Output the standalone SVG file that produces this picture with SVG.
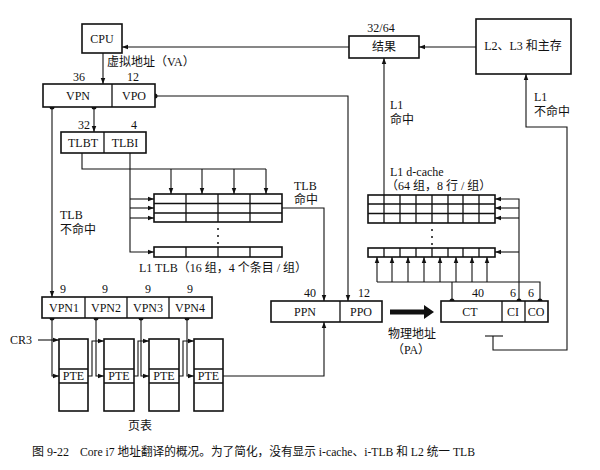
<svg xmlns="http://www.w3.org/2000/svg" width="600" height="470" viewBox="0 0 600 470">
<style>
.box{fill:#fff;stroke:#111;stroke-width:1.6}
.cell{fill:none;stroke:#111;stroke-width:1.3}
.ln{fill:none;stroke:#111;stroke-width:1.1}
.t{font-family:"Liberation Serif","Noto Sans CJK SC",serif;font-size:12px;fill:#111}
.c{text-anchor:middle}
.dot{fill:#111}
</style>
<defs>
<marker id="ah" viewBox="0 0 8 8" refX="8" refY="4" markerWidth="6" markerHeight="6" orient="auto" markerUnits="userSpaceOnUse">
<path d="M0,1 L8,4 L0,7 z" fill="#111"/>
</marker>
</defs>
<rect width="600" height="470" fill="#fff"/>

<g id="connectors">
<path class="ln" d="M103,53 V84" marker-end="url(#ah)"/>
<path class="ln" d="M349,47 H122" marker-end="url(#ah)"/>
<path class="ln" d="M476,47 H419" marker-end="url(#ah)"/>
<path class="ln" d="M155,96 H348 V301" marker-end="url(#ah)"/>
<path class="ln" d="M94,107 V132" marker-end="url(#ah)"/>
<path class="ln" d="M52,107 V297" marker-end="url(#ah)"/>
<path class="ln" d="M82,153 V169 H266"/>
<path class="ln" d="M171,169 V194" marker-end="url(#ah)"/>
<path class="ln" d="M202,169 V194" marker-end="url(#ah)"/>
<path class="ln" d="M234,169 V194" marker-end="url(#ah)"/>
<path class="ln" d="M266,169 V194" marker-end="url(#ah)"/>
<path class="ln" d="M130,153 V252 H154" marker-end="url(#ah)"/>
<path class="ln" d="M130,199 H154" marker-end="url(#ah)"/>
<path class="ln" d="M130,208 H154" marker-end="url(#ah)"/>
<path class="ln" d="M130,218 H154" marker-end="url(#ah)"/>
<path class="ln" d="M282,208 H324 V301" marker-end="url(#ah)"/>
<path class="ln" d="M384,195 V58" marker-end="url(#ah)"/>
<path class="ln" d="M493,336 V350 H567 V127 H526 V74" marker-end="url(#ah)"/>
<path class="ln" d="M485,336 H503" stroke-width="1.4"/>
<path class="ln" d="M519,301 V199 H495" marker-end="url(#ah)"/>
<path class="ln" d="M519,208 H495" marker-end="url(#ah)"/>
<path class="ln" d="M519,218 H495" marker-end="url(#ah)"/>
<path class="ln" d="M519,252 H495" marker-end="url(#ah)"/>
<path class="ln" d="M452,301 V282"/>
<path class="ln" d="M540,301 V282 H377"/>
<path class="ln" d="M377,282 V257" marker-end="url(#ah)"/>
<path class="ln" d="M392,282 V257" marker-end="url(#ah)"/>
<path class="ln" d="M408,282 V257" marker-end="url(#ah)"/>
<path class="ln" d="M424,282 V257" marker-end="url(#ah)"/>
<path class="ln" d="M440,282 V257" marker-end="url(#ah)"/>
<path class="ln" d="M456,282 V257" marker-end="url(#ah)"/>
<path class="ln" d="M472,282 V257" marker-end="url(#ah)"/>
<path class="ln" d="M487,282 V257" marker-end="url(#ah)"/>
<path d="M390,309.5 H424 V305 L434,312 L424,319 V314.5 H390 z" fill="#111"/>
<path class="ln" d="M38,340 H59" marker-end="url(#ah)"/>
<path class="ln" d="M52,318 V376 H59" marker-end="url(#ah)"/>
<path class="ln" d="M96,318 V376 H104" marker-end="url(#ah)"/>
<path class="ln" d="M141,318 V376 H149" marker-end="url(#ah)"/>
<path class="ln" d="M187,318 V376 H194" marker-end="url(#ah)"/>
<path class="ln" d="M88,376 H92 V341 H104" marker-end="url(#ah)"/>
<path class="ln" d="M134,376 H138 V341 H149" marker-end="url(#ah)"/>
<path class="ln" d="M179,376 H183 V341 H194" marker-end="url(#ah)"/>
<path class="ln" d="M223,376 H324 V322" marker-end="url(#ah)"/>
<circle class="dot" cx="155" cy="96" r="2.5"/>
<circle class="dot" cx="94" cy="107" r="2.5"/>
<circle class="dot" cx="52" cy="107" r="2.5"/>
<circle class="dot" cx="452" cy="301" r="2.5"/>
<circle class="dot" cx="519" cy="301" r="2.5"/>
<circle class="dot" cx="540" cy="301" r="2.5"/>
<circle class="dot" cx="52" cy="318" r="2.5"/>
<circle class="dot" cx="96" cy="318" r="2.5"/>
<circle class="dot" cx="141" cy="318" r="2.5"/>
<circle class="dot" cx="187" cy="318" r="2.5"/>
</g>

<g id="cpu">
<rect class="box" x="82" y="24" width="40" height="29"/>
<text class="t c" x="102" y="43">CPU</text>
</g>
<g id="va-label">
<text class="t" x="107" y="66">虚拟地址（VA）</text>
</g>
<g id="va">
<rect class="box" x="43" y="84" width="112" height="23"/>
<line class="cell" x1="112" y1="84" x2="112" y2="107"/>
<text class="t c" x="78" y="100">VPN</text>
<text class="t c" x="134" y="100">VPO</text>
<text class="t c" x="79" y="81">36</text>
<text class="t c" x="133" y="81">12</text>
</g>
<g id="tlbindex">
<rect class="box" x="61" y="132" width="85" height="21"/>
<line class="cell" x1="104" y1="132" x2="104" y2="153"/>
<text class="t c" x="83" y="147">TLBT</text>
<text class="t c" x="125" y="147">TLBI</text>
<text class="t c" x="84" y="129">32</text>
<text class="t c" x="134" y="129">4</text>
</g>
<g id="result">
<rect class="box" x="349" y="36" width="70" height="22"/>
<text class="t c" x="384" y="51">结果</text>
<text class="t c" x="381" y="32">32/64</text>
</g>
<g id="memory">
<rect class="box" x="476" y="19" width="95" height="55"/>
<text class="t c" x="523" y="50">L2、L3 和主存</text>
</g>
<g id="l1-labels">
<text class="t" x="390" y="109">L1</text>
<text class="t" x="390" y="124">命中</text>
<text class="t" x="534" y="101">L1</text>
<text class="t" x="534" y="116">不命中</text>
</g>
<g id="tlb">
<rect class="box" x="154" y="194" width="128" height="28"/>
<path class="cell" d="M154,203.5 H282 M154,213 H282 M186,194 V222 M218,194 V222 M250,194 V222"/>
<rect class="box" x="154" y="247" width="128" height="10"/>
<path class="cell" d="M186,247 V257 M218,247 V257 M250,247 V257"/>
<circle class="dot" cx="218" cy="229" r="1"/>
<circle class="dot" cx="218" cy="236" r="1"/>
<circle class="dot" cx="218" cy="243" r="1"/>
<text class="t" x="139" y="272">L1 TLB（16 组，4 个条目 / 组）</text>
<text class="t" x="60" y="219">TLB</text>
<text class="t" x="60" y="234">不命中</text>
<text class="t" x="294" y="190">TLB</text>
<text class="t" x="294" y="204">命中</text>
</g>
<g id="dcache">
<rect class="box" x="368" y="195" width="127" height="28"/>
<path class="cell" d="M368,204 H495 M368,213.5 H495 M384,195 V223 M400,195 V223 M416,195 V223 M432,195 V223 M448,195 V223 M463,195 V223 M479,195 V223"/>
<rect class="box" x="368" y="248" width="127" height="9"/>
<path class="cell" d="M384,248 V257 M400,248 V257 M416,248 V257 M432,248 V257 M448,248 V257 M463,248 V257 M479,248 V257"/>
<circle class="dot" cx="432" cy="230" r="1"/>
<circle class="dot" cx="432" cy="237" r="1"/>
<circle class="dot" cx="432" cy="244" r="1"/>
<text class="t" x="390" y="176">L1 d-cache</text>
<text class="t" x="386" y="190">（64 组，8 行 / 组）</text>
</g>
<g id="pa">
<rect class="box" x="271" y="301" width="111" height="21"/>
<line class="cell" x1="340" y1="301" x2="340" y2="322"/>
<text class="t c" x="305" y="316">PPN</text>
<text class="t c" x="361" y="316">PPO</text>
<text class="t c" x="310" y="297">40</text>
<text class="t c" x="364" y="297">12</text>
</g>
<g id="pa-label">
<text class="t c" x="412" y="338">物理地址</text>
<text class="t c" x="411" y="354">（PA）</text>
</g>
<g id="cache-addr">
<rect class="box" x="441" y="301" width="107" height="21"/>
<path class="cell" d="M502,301 V322 M525,301 V322"/>
<text class="t c" x="470" y="316">CT</text>
<text class="t c" x="513" y="316">CI</text>
<text class="t c" x="536" y="316">CO</text>
<text class="t c" x="478" y="297">40</text>
<text class="t c" x="513" y="297">6</text>
<text class="t c" x="531" y="297">6</text>
</g>
<g id="vpn-split">
<rect class="box" x="42" y="297" width="170" height="21"/>
<path class="cell" d="M85,297 V318 M127,297 V318 M169,297 V318"/>
<text class="t c" x="64" y="312">VPN1</text>
<text class="t c" x="106" y="312">VPN2</text>
<text class="t c" x="148" y="312">VPN3</text>
<text class="t c" x="190" y="312">VPN4</text>
<text class="t c" x="63" y="293">9</text>
<text class="t c" x="105" y="293">9</text>
<text class="t c" x="148" y="293">9</text>
<text class="t c" x="190" y="293">9</text>
</g>
<g id="cr3">
<text class="t" x="10" y="344">CR3</text>
</g>
<g id="pagetables">
<rect class="box" x="59" y="339" width="29" height="72"/>
<path class="cell" d="M59,369 H88 M59,383 H88"/>
<text class="t c" x="73.5" y="380">PTE</text>
<rect class="box" x="104" y="339" width="30" height="72"/>
<path class="cell" d="M104,369 H134 M104,383 H134"/>
<text class="t c" x="119" y="380">PTE</text>
<rect class="box" x="149" y="339" width="30" height="72"/>
<path class="cell" d="M149,369 H179 M149,383 H179"/>
<text class="t c" x="164" y="380">PTE</text>
<rect class="box" x="194" y="339" width="29" height="72"/>
<path class="cell" d="M194,369 H223 M194,383 H223"/>
<text class="t c" x="208.5" y="380">PTE</text>
<text class="t c" x="140" y="430">页表</text>
</g>
<g id="caption">
<text class="t" x="32" y="456" font-size="11">图 9-22</text>
<text class="t" x="80" y="456" font-size="11" textLength="395" lengthAdjust="spacingAndGlyphs">Core i7 地址翻译的概况。为了简化，没有显示 i-cache、i-TLB 和 L2 统一 TLB</text>
</g>
</svg>
